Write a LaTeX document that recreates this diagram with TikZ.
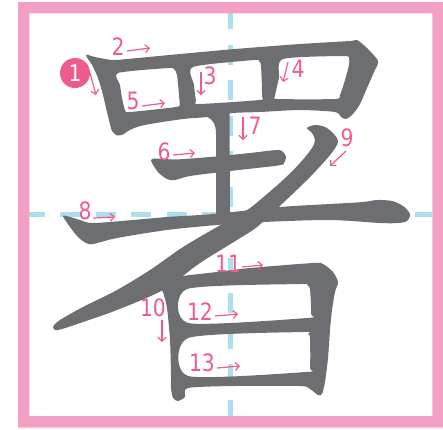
\documentclass[tikz,border=0pt]{standalone}
\usepackage{fontspec}
\usetikzlibrary{arrows.meta}
\newfontfamily\numfont[FakeStretch=0.85]{DejaVu Sans}
\definecolor{inkgray}{RGB}{109,110,113}
\definecolor{framepink}{RGB}{243,160,197}
\definecolor{guideblue}{RGB}{173,222,237}
\definecolor{numpink}{RGB}{238,92,141}

\begin{document}
\begin{tikzpicture}[x=1bp, y=-1bp,
    glyph/.style={fill=inkgray, even odd rule},
    num/.style={text=numpink, inner sep=0pt, font=\numfont\fontsize{24}{24}\selectfont},
    arr/.style={numpink, line width=1.2bp, -{Straight Barb[length=4bp,width=8bp]}}]
  \useasboundingbox (0,0) rectangle (443,429);
  % guide lines and frame
  \draw[guideblue, line width=4.5bp, dash pattern=on 20bp off 15.5bp] (24.5,214.5) -- (432,214.5);
  \draw[guideblue, line width=4.5bp, dash pattern=on 20bp off 15.5bp] (230.5,9) -- (230.5,416);
  \fill[framepink, even odd rule] (18,2) rectangle (443.5,427.5) (29.3,13.3) rectangle (432.3,416);
  % strokes 1-5
  \fill[glyph] plot[smooth cycle, tension=.45] coordinates {
      (86,55) (95,57) (112,60) (127,59) (180,54) (235,49) (300,44) (350,41) (357,40)
      (367,48) (378,61) (374,72) (367,88) (360,104) (353,114) (346,119) (341,117)
      (335,112) (300,110) (260,112) (233,113) (207,117) (183,119) (150,124) (137,127)
      (128,131) (123,134.5) (117,135.5) (112,131) (110,124) (107,112) (103,95) (98,78) (92,65)}
    plot[smooth cycle, tension=.4] coordinates {
      (118,73) (168,68) (174,69) (177,75) (179,95) (179.5,104) (176,107) (130,112) (125,110) (122,98) (120,85)}
    plot[smooth cycle, tension=.4] coordinates {
      (193,67) (254,60) (259,61) (261,66) (262,96) (259,100) (199,104) (196,101) (194,85)}
    plot[smooth cycle, tension=.4] coordinates {
      (283,59) (344,56) (349,59) (349,65) (345,80) (340,95) (335,99) (278,99) (275,96) (279,78)};
  % strokes 6-8
  \fill[glyph] (205,116) .. controls (213,119) and (216,124) .. (216,134) -- (216,216) -- (230,216) -- (229.5,112) -- cycle;
  \fill[glyph] plot[smooth cycle, tension=.5] coordinates {
      (151,160) (160,158.5) (175,159.5) (210,157) (250,153) (277,150) (283,152) (286,157)
      (284,163) (278,165.5) (230,171) (190,176) (175,180) (167,179) (158,172)};
  \fill[glyph] plot[smooth cycle, tension=.5] coordinates {
      (63,216) (70,217) (80,220) (93,223) (133,220) (167,217) (213,214) (280,207) (330,204)
      (363,202) (377,200) (392,201) (403,206) (410,214) (407,221) (398,223) (380,223)
      (330,220) (263,222) (217,225) (167,230) (117,238) (93,244) (86,243) (78,237) (70,227)};
  % stroke 9
  \fill[glyph] plot[smooth cycle, tension=.5] coordinates {
      (307,128) (315,125) (325,127) (333,133) (338,142) (330,155) (310,177) (283,203)
      (257,227) (237,240) (200,263) (163,290) (117,310) (83,322) (58,330) (53,327)
      (60,320) (83,307) (117,290) (150,270) (183,247) (217,227) (247,210) (260,200)
      (283,180) (300,163) (312,148) (315,140) (312,133)};
  % strokes 10-13
  \fill[glyph] plot[smooth cycle, tension=.45] coordinates {
      (160,286) (172,280) (183,276) (217,272) (250,268) (313,263) (323,264) (333,272)
      (338,282) (335,292) (332,310) (330,330) (328,358) (325,382) (322,394) (318,395)
      (310,389) (300,386) (233,386) (188,388) (185,397) (178,401) (173,398) (171,388)
      (171,375) (170,340) (167,308) (163,292)}
    plot[smooth cycle, tension=.4] coordinates {
      (187,289) (300,284) (307,285) (310,289) (311,314) (307,318) (188,323)}
    plot[smooth cycle, tension=.4] coordinates {
      (188,338) (303,332) (308,334) (310,338) (310,368) (306,372) (188,376)};
  % stroke numbers
  \node[circle, fill=numpink, minimum size=30bp, inner sep=0pt, text=white,
        font=\numfont\fontsize{23}{23}\selectfont] (n1) at (75,73) {1};
  \draw[arr] (90,73) -- (96,95);
  \foreach \n/\lx/\ly/\ax/\ay/\bx/\by in {
      2/118/47/127/51/150/48, 3/210/76/201/72/201/95, 4/298/69/288/62/283/82,
      5/133/101/142/106/165/103, 6/164/152/173/155/195/153, 7/255/126/243/117/243/140,
      8/85/211/93/218/115/217, 9/347/138/346/151/330/166, 10/153/308/162/320/162/342,
      11/228/264/242/267/263/265, 12/200/312/215/316/238/314, 13/202/363/217/368/240/366} {
    \node[num] (n\n) at (\lx,\ly) {\n};
    \draw[arr] (\ax,\ay) -- (\bx,\by);
  }
\end{tikzpicture}
\end{document}
